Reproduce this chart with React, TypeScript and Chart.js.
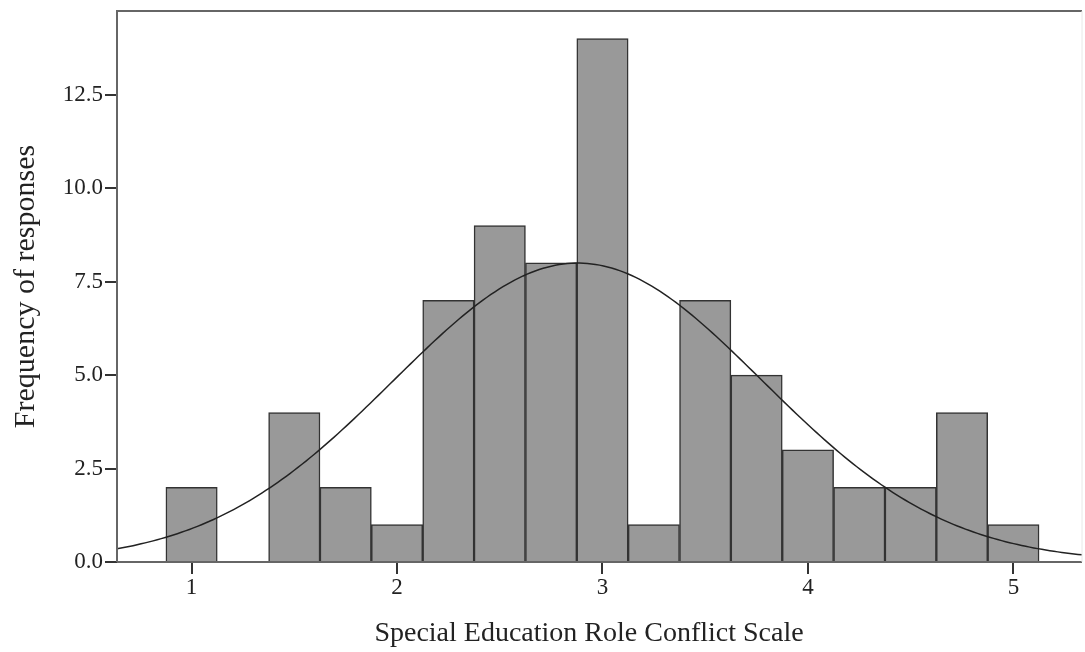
import React, { useEffect, useRef } from "react";
import { Chart, registerables } from "chart.js";

Chart.register(...registerables);

const binCenters = [1.0, 1.25, 1.5, 1.75, 2.0, 2.25, 2.5, 2.75, 3.0, 3.25, 3.5, 3.75, 4.0, 4.25, 4.5, 4.75, 5.0];
const frequencies = [2, 0, 4, 2, 1, 7, 9, 8, 14, 1, 7, 5, 3, 2, 2, 4, 1];
const xTickValues = [1, 2, 3, 4, 5];
const yTickValues = [0, 2.5, 5, 7.5, 10, 12.5];
const curveMean = 2.88;
const curveSd = 0.898;
const binWidth = 0.25;
const xMin = 0.637;
const xMax = 5.334;
const yMax = 14.74;

const FONT = "'Liberation Serif', 'Times New Roman', serif";

export default function App() {
  const ref = useRef<HTMLCanvasElement | null>(null);

  useEffect(() => {
    document.body.style.margin = "0";
    const total = frequencies.reduce((a, b) => a + b, 0);
    const curve: { x: number; y: number }[] = [];
    const n = 240;
    for (let i = 0; i <= n; i++) {
      const x = xMin + ((xMax - xMin) * i) / n;
      const z = (x - curveMean) / curveSd;
      const y = (total * binWidth) / (curveSd * Math.sqrt(2 * Math.PI)) * Math.exp(-0.5 * z * z);
      curve.push({ x, y });
    }

    const frame = {
      id: "frame",
      afterDraw(chart: any) {
        const { ctx, chartArea } = chart;
        ctx.save();
        ctx.strokeStyle = "#666";
        ctx.lineWidth = 2;
        ctx.beginPath();
        ctx.moveTo(chartArea.left, chartArea.bottom);
        ctx.lineTo(chartArea.left, chartArea.top);
        ctx.lineTo(chartArea.right, chartArea.top);
        ctx.moveTo(chartArea.left, chartArea.bottom);
        ctx.lineTo(chartArea.right, chartArea.bottom);
        ctx.stroke();
        ctx.strokeStyle = "#e8e8e8";
        ctx.lineWidth = 1;
        ctx.beginPath();
        ctx.moveTo(chartArea.right, chartArea.top);
        ctx.lineTo(chartArea.right, chartArea.bottom);
        ctx.stroke();
        ctx.restore();
      },
    };

    const chart = new Chart(ref.current as HTMLCanvasElement, {
      type: "bar",
      data: {
        datasets: [
          {
            type: "line",
            data: curve,
            borderColor: "#222",
            borderWidth: 1.5,
            pointRadius: 0,
            fill: false,
            tension: 0,
            order: 0,
          } as any,
          {
            type: "bar",
            data: binCenters.map((x, i) => ({ x, y: frequencies[i] })),
            backgroundColor: "#999999",
            borderColor: "#333333",
            borderWidth: 1.5,
            barPercentage: 1,
            categoryPercentage: 1,
            order: 1,
          } as any,
        ],
      },
      options: {
        animation: false,
        responsive: false,
        maintainAspectRatio: false,
        layout: { padding: { left: 0, top: 11, right: 3, bottom: 0 } },
        plugins: { legend: { display: false }, tooltip: { enabled: false } },
        scales: {
          x: {
            type: "linear",
            min: xMin,
            max: xMax,
            offset: false,
            afterBuildTicks: (s: any) => {
              s.ticks = xTickValues.map((v) => ({ value: v }));
            },
            afterFit: (s: any) => {
              s.height = 90;
              s.paddingLeft = 0;
              s.paddingRight = 0;
            },
            ticks: {
              color: "#222",
              font: { family: FONT, size: 23 },
              padding: 0,
              maxRotation: 0,
              autoSkip: false,
              callback: (v: any) => String(v),
            },
            grid: {
              display: true,
              offset: false,
              drawOnChartArea: false,
              drawTicks: true,
              tickLength: 12,
              color: "#333",
              lineWidth: 2,
            },
            border: { display: false },
            title: {
              display: true,
              text: "Special Education Role Conflict Scale\u00a0\u00a0\u00a0",
              color: "#222",
              font: { family: FONT, size: 28 },
              padding: { top: 0, bottom: 2 },
            },
          },
          y: {
            type: "linear",
            min: 0,
            max: yMax,
            afterBuildTicks: (s: any) => {
              s.ticks = yTickValues.map((v) => ({ value: v }));
            },
            afterFit: (s: any) => {
              s.width = 117;
              s.paddingTop = 0;
              s.paddingBottom = 0;
            },
            ticks: {
              color: "#222",
              font: { family: FONT, size: 23 },
              padding: 2,
              autoSkip: false,
              callback: (v: any) => Number(v).toFixed(1),
            },
            grid: {
              display: true,
              drawOnChartArea: false,
              drawTicks: true,
              tickLength: 12,
              color: "#333",
              lineWidth: 2,
            },
            border: { display: false },
            title: {
              display: true,
              text: "Frequency of responses",
              color: "#222",
              font: { family: FONT, size: 30 },
              padding: { top: 8, bottom: 0 },
            },
          },
        },
      },
      plugins: [frame],
    });
    return () => chart.destroy();
  }, []);

  return (
    <div style={{ position: "fixed", left: 0, top: 0, width: 1085, height: 652, background: "#fff" }}>
      <canvas ref={ref} width={1085} height={652} style={{ display: "block", width: 1085, height: 652 }} />
    </div>
  );
}
